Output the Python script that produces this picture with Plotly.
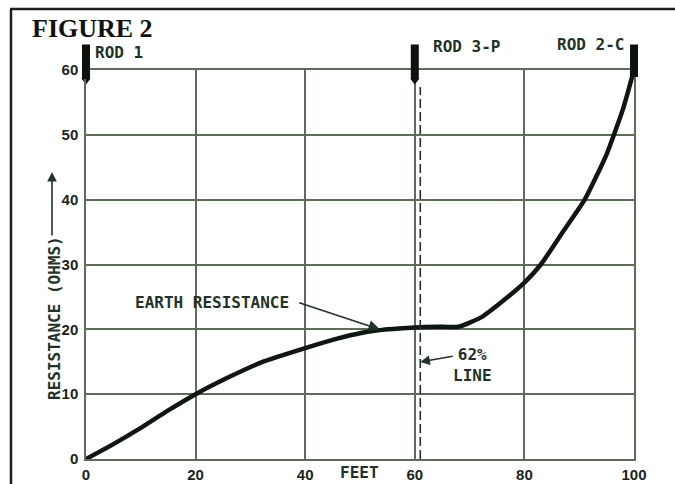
import plotly.graph_objects as go

# ---------------- data ----------------
FEET = [0, 5, 10, 15, 20, 26, 32, 40, 46, 50, 55, 60, 64, 68, 72, 75.5, 80, 83, 87, 91, 95, 98, 100]
RESISTANCE = [0, 2.3, 4.8, 7.5, 10, 12.6, 14.9, 17.1, 18.6, 19.4, 20.0, 20.3, 20.4, 20.4, 21.8,
              24.0, 27.2, 30, 35, 40, 47, 54, 60]
X_TICKS = [0, 20, 40, 60, 80, 100]
Y_TICKS = [0, 10, 20, 30, 40, 50, 60]
ROD_X = [0, 60, 100]
ROD_NAMES = ["ROD 1", "ROD 3-P", "ROD 2-C"]
ROD_HAS_TIP = [True, True, False]
LINE_62_X = 61
EARTH_POINT = (53.6, 20.0)

# ---------------- geometry (pixels) ----------------
W, H = 675, 484
L, R, T, B = 86, 634, 70, 459
XMAX, YMAX = 100, 60


def px_x(px):  # pixel -> paper x
    return (px - L) / (R - L)


def px_y(py):  # pixel -> paper y
    return (B - py) / (B - T)


def dat_y(py):  # pixel -> data y
    return YMAX * (B - py) / (B - T)


INK = "#1f3326"
GRID = "#5d6e58"
CURVE = "#0f1711"
ROD_INK = "#0c120d"
LABEL_FONT = dict(family="DejaVu Sans Mono", size=16, color=INK, weight="bold")
TICK_FONT = dict(family="Liberation Sans", size=15, color="#1a241c", weight="bold")

fig = go.Figure()

# main curve
fig.add_trace(go.Scatter(
    x=FEET, y=RESISTANCE, mode="lines",
    line=dict(color=CURVE, width=4.5, shape="spline", smoothing=0.5),
    hoverinfo="skip", showlegend=False))

# 62% dashed line
fig.add_trace(go.Scatter(
    x=[LINE_62_X, LINE_62_X], y=[0, dat_y(87)], mode="lines",
    line=dict(color=INK, width=1.6, dash="9px,4px"),
    hoverinfo="skip", showlegend=False))

# rod tips (pointed ends)
tip_x = [x for x, t in zip(ROD_X, ROD_HAS_TIP) if t]
fig.add_trace(go.Scatter(
    x=tip_x, y=[dat_y(80.5)] * len(tip_x), mode="markers",
    marker=dict(symbol="triangle-down", size=8, color=ROD_INK, line=dict(width=0)),
    cliponaxis=False, hoverinfo="skip", showlegend=False))

annotations = []
# rod bars: thick arrow lines (annotations are not clipped)
for x, has_tip in zip(ROD_X, ROD_HAS_TIP):
    bottom = 79 if has_tip else 77
    annotations.append(dict(text="", x=x, y=dat_y(bottom), xref="x", yref="y",
                            ax=x, axref="x", ay=-(bottom - 43), showarrow=True,
                            arrowhead=0, arrowwidth=8, arrowcolor=ROD_INK,
                            standoff=0, startstandoff=0))
# title
annotations.append(dict(text="<b>FIGURE 2</b>", xref="paper", yref="paper",
                        x=px_x(30), y=px_y(29), xanchor="left", yanchor="middle",
                        showarrow=False,
                        font=dict(family="Liberation Serif", size=26, color="#111111")))
# rod labels
rod_label_pos = [(93, 53, "left"), (431, 46, "left"), (626, 45, "right")]
for name, (lx, ly, anc) in zip(ROD_NAMES, rod_label_pos):
    annotations.append(dict(text=name, xref="paper", yref="paper", x=px_x(lx), y=px_y(ly),
                            xanchor=anc, yanchor="middle", showarrow=False, font=LABEL_FONT))
# earth resistance label + arrow
annotations.append(dict(text="EARTH RESISTANCE", xref="paper", yref="paper",
                        x=px_x(133), y=px_y(302.5), xanchor="left", yanchor="middle",
                        showarrow=False, font=LABEL_FONT))
annotations.append(dict(text="", x=EARTH_POINT[0], y=EARTH_POINT[1], xref="x", yref="y",
                        showarrow=True, arrowhead=2, arrowsize=1.4, arrowwidth=1.6,
                        arrowcolor=INK, ax=-82, ay=-27, standoff=0, startstandoff=0))
# 62% line label + arrow
annotations.append(dict(text="62%<br>LINE", xref="paper", yref="paper",
                        x=px_x(472), y=px_y(364.5), xanchor="center", yanchor="middle",
                        showarrow=False, align="center", font=LABEL_FONT))
annotations.append(dict(text="", x=LINE_62_X, y=dat_y(362), xref="x", yref="y",
                        showarrow=True, arrowhead=2, arrowsize=1.2, arrowwidth=1.6,
                        arrowcolor=INK, ax=34, ay=-6, standoff=0, startstandoff=0))
# y axis title + arrow
annotations.append(dict(text="RESISTANCE (OHMS)", xref="paper", yref="paper",
                        x=px_x(54), y=px_y(318), textangle=-90, xanchor="center",
                        yanchor="middle", showarrow=False, font=LABEL_FONT))
annotations.append(dict(text="", xref="paper", yref="paper", x=px_x(52), y=px_y(172),
                        showarrow=True, arrowhead=2, arrowsize=1.2, arrowwidth=1.6,
                        arrowcolor=INK, ax=0, ay=65, standoff=0, startstandoff=0))
# x axis title
annotations.append(dict(text="FEET", xref="paper", yref="paper", x=px_x(359), y=px_y(473),
                        xanchor="center", yanchor="middle", showarrow=False, font=LABEL_FONT))

shapes = [
    dict(type="line", xref="paper", yref="paper", x0=px_x(11), x1=px_x(11),
         y0=px_y(H + 2), y1=px_y(9), line=dict(color="#18221a", width=2.5)),
    dict(type="line", xref="paper", yref="paper", x0=px_x(10), x1=px_x(W + 2),
         y0=px_y(9), y1=px_y(9), line=dict(color="#18221a", width=2.5)),
]

fig.update_layout(
    width=W, height=H,
    margin=dict(l=L, r=W - R, t=T, b=H - B, pad=0, autoexpand=False),
    paper_bgcolor="white", plot_bgcolor="white",
    showlegend=False,
    annotations=annotations, shapes=shapes,
    xaxis=dict(range=[0, XMAX], tickvals=X_TICKS, ticktext=[str(v) for v in X_TICKS],
               showgrid=True, gridcolor=GRID, gridwidth=1.5, zeroline=False,
               showline=True, linecolor=GRID, linewidth=1.5, mirror=True, automargin=False,
               ticks="", ticklabelstandoff=1, tickfont=TICK_FONT, fixedrange=True),
    yaxis=dict(range=[0, YMAX], tickvals=Y_TICKS, ticktext=[str(v) for v in Y_TICKS],
               showgrid=True, gridcolor=GRID, gridwidth=1.5, zeroline=False,
               showline=True, linecolor=GRID, linewidth=1.5, mirror=True, automargin=False,
               ticks="", ticklabelstandoff=3, tickfont=TICK_FONT, fixedrange=True),
)

fig.write_html("out.html", config={"displayModeBar": False},
               post_script="document.body.style.margin='0';document.body.style.overflow='hidden';")
